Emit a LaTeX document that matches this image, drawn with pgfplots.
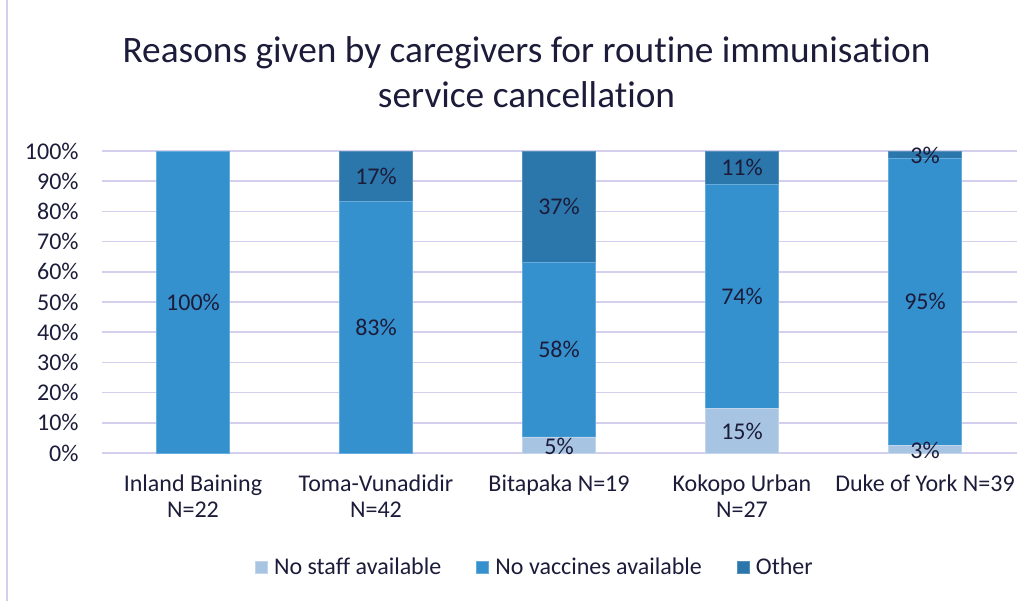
\documentclass[border=0pt]{standalone}
\usepackage{fontspec}
\setmainfont{Carlito}[Ligatures={NoCommon,NoRare,NoContextual}]
\usepackage{pgfplots}
\usepackage{pgfplotstable}
\pgfplotsset{compat=1.18}
\definecolor{cStaff}{HTML}{A7C4E3}
\definecolor{cVacc}{HTML}{3591CE}
\definecolor{cOther}{HTML}{2B76AA}
\definecolor{txt}{HTML}{1C1C3A}
\definecolor{gridc}{HTML}{D4CFEC}

\pgfplotstableread{
x staff vacc other
0 0 100 0
1 0 83.3 16.7
2 5.3 57.9 36.8
3 14.8 74.1 11.1
4 2.6 94.9 2.5
}\bars

\pgfplotstableread{
x y lab
0 50 100
1 41.65 83
1 91.65 17
2 2.2 5
2 34.25 58
2 81.6 37
3 7.2 15
3 51.85 74
3 94.45 11
4 0.9 3
4 50.05 95
4 98.7 3
}\labels

\newcommand{\lblfont}{\fontsize{18}{19.5}\selectfont}

\begin{document}
\begin{tikzpicture}
\path[use as bounding box] (0,0) rectangle (774pt,450.75pt);
\draw[gridc, line width=0.9pt] (5.25pt,0) -- (5.25pt,450.75pt);
\node[anchor=base, font=\fontsize{28}{33}\selectfont, text=txt] at (394.9pt,403.5pt) {Reasons given by caregivers for routine immunisation};
\node[anchor=base, font=\fontsize{28}{33}\selectfont, text=txt] at (394.9pt,369.75pt) {service cancellation};
\begin{axis}[
  at={(76.125pt,111pt)}, anchor=south west,
  scale only axis, width=686.25pt, height=226.5pt,
  ybar stacked, bar width=54.75pt,
  xmin=-0.5, xmax=4.5, ymin=0, ymax=100,
  xtick={0,1,2,3,4},
  xticklabels={{Inland Baining\\N=22},{Toma-Vunadidir\\N=42},{Bitapaka N=19},{Kokopo Urban\\N=27},{Duke of York N=39}},
  ytick={0,10,...,100},
  yticklabel={\pgfmathprintnumber{\tick}\%},
  /pgf/number format/assume math mode=true,
  axis line style={draw=none},
  major tick length=0pt,
  ymajorgrids, grid style={gridc, line width=1.2pt},
  tick label style={font=\lblfont, text=txt},
  xticklabel style={align=center, inner sep=0pt, anchor=north, yshift=-16.5pt},
  yticklabel style={inner sep=0pt, anchor=east, xshift=-17pt},
  legend style={at={(0.4738,-0.3775)}, anchor=center, draw=none, fill=none,
    font=\lblfont, text=txt, legend columns=3,
    /tikz/every odd column/.append style={column sep=3pt},
    /tikz/every even column/.append style={column sep=24pt}},
  legend image code/.code={\draw[#1] (0pt,-4.5pt) rectangle (9pt,4.5pt);},
]
\addplot[fill=cStaff, draw=cStaff!70!white, line width=0.6pt] table[x=x,y=staff]{\bars};
\addplot[fill=cVacc, draw=cVacc!75!white, line width=0.6pt] table[x=x,y=vacc]{\bars};
\addplot[fill=cOther, draw=cOther!80!white, line width=0.6pt] table[x=x,y=other]{\bars};
\legend{No staff available, No vaccines available, Other}
\end{axis}
\begin{axis}[
  at={(76.125pt,111pt)}, anchor=south west,
  scale only axis, width=686.25pt, height=226.5pt,
  xmin=-0.5, xmax=4.5, ymin=0, ymax=100,
  hide axis, clip=false,
]
\addplot[draw=none, mark=none, point meta=explicit symbolic,
  nodes near coords={\pgfplotspointmeta\%},
  every node near coord/.append style={anchor=center, font=\lblfont, text=txt, inner sep=0pt}]
  table[x=x,y=y,meta=lab]{\labels};
\end{axis}
\end{tikzpicture}
\end{document}
